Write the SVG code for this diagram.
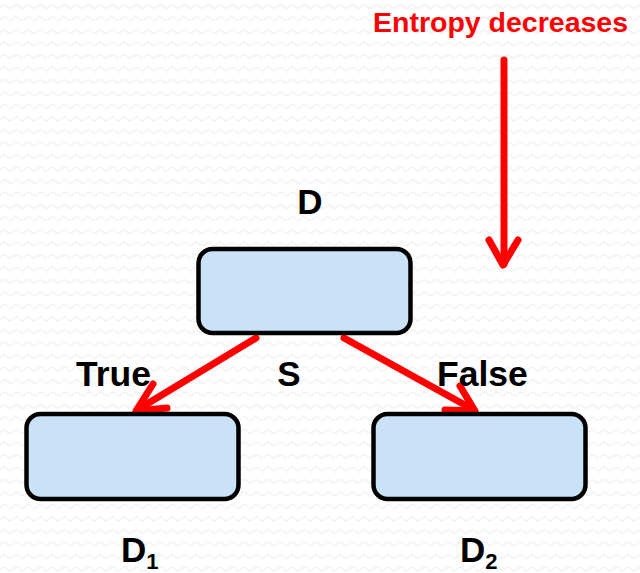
<svg xmlns="http://www.w3.org/2000/svg" width="640" height="573" viewBox="0 0 640 573">
  <style>
    .node { fill: #c9e2f8; stroke: #000; stroke-width: 4.5; }
    .lbl { font-family: "Liberation Sans", Arial, sans-serif; font-weight: bold; fill: #000; }
    .red { stroke: #ff0000; stroke-width: 7; fill: none; stroke-linecap: round; stroke-linejoin: round; }
  </style>
  <defs>
    <pattern id="zigzag" width="12" height="12.5" patternUnits="userSpaceOnUse">
      <path d="M0 8 L3 5 L6 5 L9 8 L12 8" fill="none" stroke="#f3f3f3" stroke-width="1.6"/>
    </pattern>
  </defs>

  <!-- background -->
  <rect width="640" height="573" fill="#ffffff"/>
  <rect width="640" height="573" fill="url(#zigzag)"/>

  <!-- entropy indicator -->
  <g id="entropy">
    <text x="373" y="32" font-family="Liberation Sans, Arial, sans-serif" font-weight="bold" font-size="28.5" fill="#ff0000">Entropy decreases</text>
    <path class="red" d="M504 60 L504 264"/>
    <path class="red" d="M489 240 L503 265 L518 240"/>
  </g>

  <!-- connectors -->
  <g id="connectors">
    <path class="red" d="M256 338 L137 410"/>
    <path class="red" d="M153 384 L136 411 L167 408"/>
    <path class="red" d="M344 338 L474 410"/>
    <path class="red" d="M460 386 L475 411 L445 410"/>
  </g>

  <!-- root node -->
  <g id="node-D">
    <rect class="node" x="198.5" y="249" width="212" height="84" rx="14"/>
    <text class="lbl" x="310" y="214" font-size="35" text-anchor="middle">D</text>
    <text class="lbl" x="289" y="386" font-size="35" text-anchor="middle">S</text>
  </g>

  <!-- left child -->
  <g id="node-D1">
    <rect class="node" x="26.5" y="414" width="212" height="85" rx="14"/>
    <text class="lbl" x="76" y="386" font-size="35.5">True</text>
    <text class="lbl" x="121" y="562" font-size="35">D<tspan font-size="22" dy="7">1</tspan></text>
  </g>

  <!-- right child -->
  <g id="node-D2">
    <rect class="node" x="373.5" y="414" width="212" height="85" rx="14"/>
    <text class="lbl" x="437" y="386" font-size="35.5">False</text>
    <text class="lbl" x="460" y="562" font-size="35">D<tspan font-size="22" dy="7">2</tspan></text>
  </g>
</svg>
